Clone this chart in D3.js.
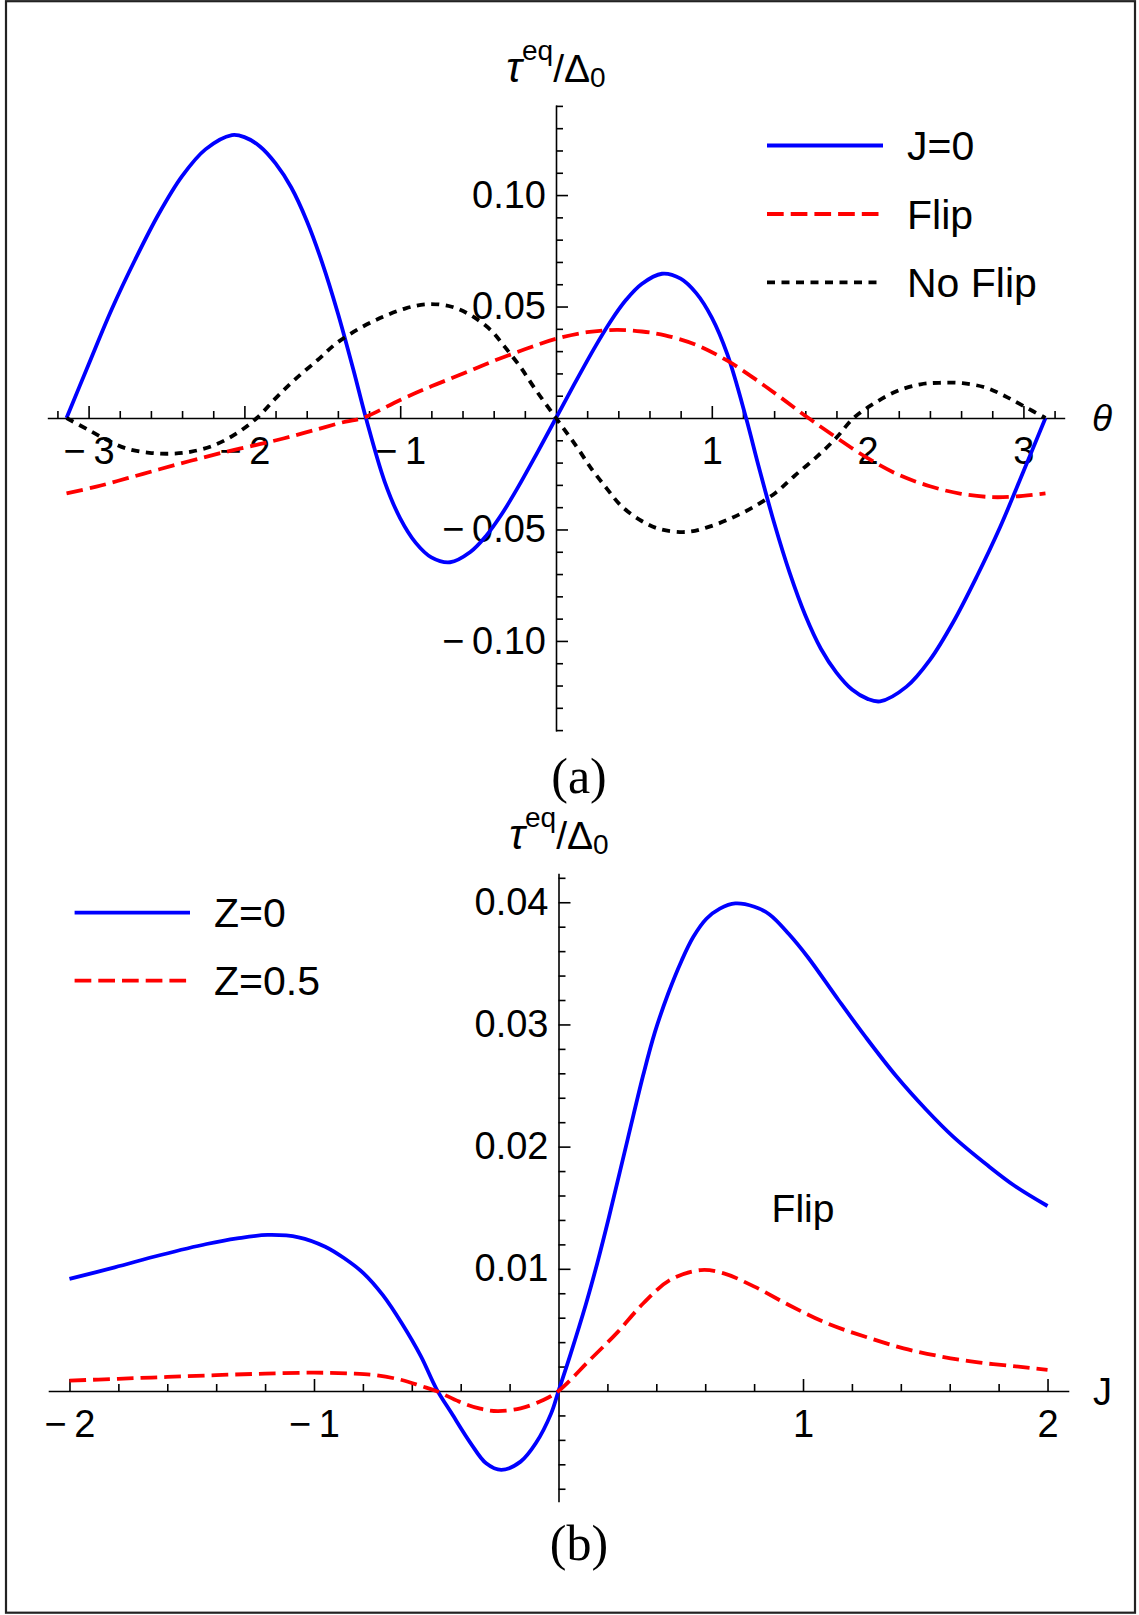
<!DOCTYPE html>
<html><head><meta charset="utf-8">
<script src="https://cdn.jsdelivr.net/npm/d3@7"></script>
<style>body{margin:0;background:#fff} svg{display:block}</style>
</head><body>
<script>
// ---------- Panel (a) data: tau^eq/Delta_0 vs theta ----------
const thetaJ0 = [-3.1416,-3.0,-2.85,-2.7,-2.55,-2.4,-2.25,-2.08,-2.0,-1.9,-1.8,-1.7,-1.6,-1.5,-1.4,-1.3,-1.22,-1.1,-1.0,-0.9,-0.8,-0.68,-0.55,-0.45,-0.35,-0.25,-0.12,0,
  0.12,0.25,0.35,0.45,0.55,0.68,0.8,0.9,1.0,1.1,1.22,1.3,1.4,1.5,1.6,1.7,1.8,1.9,2.0,2.08,2.25,2.4,2.55,2.7,2.85,3.0,3.1416];
const tauJ0 = [0,0.024,0.049,0.0712,0.0915,0.1085,0.1205,0.1269,0.1260,0.1218,0.1142,0.1035,0.0885,0.0695,0.047,0.0215,0,-0.0285,-0.045,-0.056,-0.0625,-0.0647,-0.0601,-0.053,-0.0433,-0.0318,-0.0155,0,
  0.0155,0.0318,0.0433,0.053,0.0601,0.0647,0.0625,0.056,0.045,0.0285,0,-0.0215,-0.047,-0.0695,-0.0885,-0.1035,-0.1142,-0.1218,-0.1260,-0.1271,-0.1205,-0.1085,-0.0915,-0.0712,-0.049,-0.024,0];

const thetaFlip = [-3.1416,-2.95,-2.75,-2.55,-2.35,-2.15,-1.95,-1.75,-1.55,-1.35,-1.24,-1.0,-0.8,-0.6,-0.4,-0.2,0,0.2,0.39,0.55,0.7,0.9,1.1,1.3,1.45,1.62,1.8,2.0,2.2,2.4,2.6,2.8,2.95,3.1416];
const tauFlip = [-0.0338,-0.0308,-0.027,-0.0231,-0.0193,-0.0157,-0.0125,-0.0092,-0.0054,-0.0016,0,0.0081,0.0142,0.0198,0.0256,0.0308,0.0355,0.0385,0.0395,0.0388,0.0371,0.0328,0.0257,0.0164,0.0088,0,-0.0088,-0.018,-0.0255,-0.0306,-0.034,-0.0355,-0.0352,-0.0338];

const thetaNoFlip = [-3.1416,-3.0,-2.88,-2.76,-2.61,-2.47,-2.34,-2.19,-2.05,-1.92,-1.8,-1.68,-1.53,-1.41,-1.26,-1.11,-0.965,-0.82,-0.67,-0.55,-0.42,-0.33,-0.23,-0.13,0,
  0.13,0.23,0.33,0.42,0.55,0.67,0.84,0.965,1.11,1.26,1.41,1.53,1.68,1.8,1.91,2.05,2.19,2.34,2.46,2.61,2.76,2.88,3.0,3.1416];
const tauNoFlip = [0,-0.0054,-0.0099,-0.0136,-0.0156,-0.016,-0.0151,-0.0121,-0.0069,0,0.0088,0.017,0.026,0.0335,0.0402,0.0454,0.0492,0.0511,0.0499,0.0462,0.0395,0.032,0.023,0.0126,0,
  -0.0126,-0.023,-0.032,-0.0395,-0.0462,-0.0499,-0.0511,-0.0492,-0.0454,-0.0402,-0.0335,-0.026,-0.017,-0.0088,0,0.0069,0.0121,0.0151,0.0158,0.0156,0.0136,0.0099,0.0054,0];

// ---------- Panel (b) data: tau^eq/Delta_0 vs J ----------
const jZ0 = [-2,-1.815,-1.627,-1.439,-1.314,-1.19,-1.063,-0.954,-0.876,-0.797,-0.719,-0.641,-0.562,-0.5,-0.437,-0.359,-0.296,-0.234,-0.155,-0.093,-0.03,0,
  0.049,0.112,0.159,0.206,0.284,0.347,0.394,0.449,0.503,0.551,0.605,0.66,0.723,0.801,0.863,0.942,1.02,1.145,1.255,1.38,1.505,1.615,1.756,1.865,2.0];
const tauZ0 = [0.00917,0.01012,0.01113,0.01203,0.01249,0.01277,0.01258,0.01181,0.01086,0.00963,0.00786,0.00554,0.00281,0.0002,-0.00183,-0.00428,-0.00592,-0.00646,-0.00578,-0.00428,-0.00183,0,
  0.0030,0.0071,0.0105,0.0142,0.0207,0.0259,0.02935,0.03255,0.0352,0.03715,0.03865,0.03948,0.0399,0.03963,0.039,0.0374,0.0355,0.0320,0.0290,0.0258,0.0230,0.0208,0.01845,0.0168,0.01514];

const jZ05 = [-2,-1.8,-1.6,-1.4,-1.2,-1.0,-0.85,-0.75,-0.641,-0.562,-0.5,-0.406,-0.32,-0.249,-0.155,-0.062,0,0.128,0.237,0.347,0.456,0.582,0.676,0.801,0.942,1.098,1.255,1.411,1.568,1.724,1.881,2.0];
const tauZ05 = [0.00085,0.001,0.00115,0.0013,0.00142,0.0015,0.00143,0.0013,0.0009,0.00041,0,-0.00087,-0.00145,-0.00164,-0.00142,-0.00074,0,0.00254,0.00472,0.00718,0.00908,0.0099,0.00963,0.00854,0.00704,0.00554,0.00444,0.00349,0.00281,0.00232,0.00199,0.00172];

// ---------- Tick labels / legends ----------
const xTicksA = [-3,-2,-1,1,2,3];
const yTicksA = [-0.10,-0.05,0.05,0.10];
const xTicksB = [-2,-1,1,2];
const yTicksB = [0.01,0.02,0.03,0.04];
const legendA = ["J=0","Flip","No Flip"];
const legendB = ["Z=0","Z=0.5"];

// ---------- drawing ----------
const W = 1139, H = 1615;
const FONT = "'Liberation Sans', Arial, sans-serif";
const SERIF = "'Liberation Serif', 'Times New Roman', serif";
const svg = d3.select("body").append("svg").attr("width", W).attr("height", H);
svg.append("rect").attr("width", W).attr("height", H).attr("fill", "#fff");
svg.append("rect").attr("x", 6).attr("y", 1.2).attr("width", 1129).attr("height", 1611.5)
  .attr("fill", "none").attr("stroke", "#222").attr("stroke-width", 2.2);

const styles = [
  {stroke: "#0000ff", dash: null},
  {stroke: "#ff0000", dash: "16.7,7"},
  {stroke: "#000000", dash: "8,6.5"}
];
const MINUS = "\u2212\u2009";
const fmtX = d => (d < 0 ? MINUS : "") + Math.abs(d);
const fmtY = d => (d < 0 ? MINUS : "") + d3.format(".2f")(Math.abs(d));

function drawAxes(x, y, xMaj, xMin, yMaj, yMin) {
  const g = svg.append("g");
  const y0 = y(0), x0 = x(0);
  g.append("g").attr("transform", `translate(0,${y0})`)
    .call(d3.axisBottom(x).tickValues(xMaj).tickSizeInner(-12).tickSizeOuter(0).tickPadding(19).tickFormat(fmtX));
  g.append("g").attr("transform", `translate(0,${y0})`)
    .call(d3.axisBottom(x).tickValues(xMin).tickSizeInner(-7).tickSizeOuter(0).tickFormat(""))
    .call(s => s.select(".domain").remove());
  g.append("g").attr("transform", `translate(${x0},0)`)
    .call(d3.axisLeft(y).tickValues(yMaj).tickSizeInner(-12).tickSizeOuter(0).tickPadding(10).tickFormat(fmtY));
  g.append("g").attr("transform", `translate(${x0},0)`)
    .call(d3.axisLeft(y).tickValues(yMin).tickSizeInner(-7).tickSizeOuter(0).tickFormat(""))
    .call(s => s.select(".domain").remove());
  g.selectAll("path.domain, .tick line").attr("stroke", "#000").attr("stroke-width", 1.6);
  g.selectAll("g").attr("font-family", null).attr("font-size", null);
  g.selectAll("text").attr("font-family", FONT).attr("font-size", 38).attr("fill", "#000");
}

function drawCurve(x, y, xs, ys, st) {
  const pts = xs.map((v, i) => [v, ys[i]]);
  const line = d3.line().x(d => x(d[0])).y(d => y(d[1])).curve(d3.curveCatmullRom.alpha(0.5));
  svg.append("path").datum(pts).attr("d", line).attr("fill", "none")
    .attr("stroke", st.stroke).attr("stroke-width", 3.8)
    .attr("stroke-dasharray", st.dash).attr("stroke-linejoin", "round");
}

function drawLegend(labels, x1, x2, tx, ys) {
  labels.forEach((lab, i) => {
    const st = styles[i];
    svg.append("line").attr("x1", x1).attr("x2", x2).attr("y1", ys[i]).attr("y2", ys[i])
      .attr("stroke", st.stroke).attr("stroke-width", 3.8).attr("stroke-dasharray", st.dash);
    svg.append("text").attr("x", tx).attr("y", ys[i]).attr("dy", "0.36em")
      .attr("font-family", FONT).attr("font-size", 41).text(lab);
  });
}

function yLabel(cx, baseline) {
  const t = svg.append("text").attr("x", cx).attr("y", baseline).attr("text-anchor", "middle")
    .attr("font-family", FONT).attr("font-size", 39).attr("fill", "#000");
  t.append("tspan").attr("font-style", "italic").attr("font-size", 42).text("\u03C4");
  t.append("tspan").attr("font-size", 28).attr("dy", -22).text("eq");
  t.append("tspan").attr("dy", 22).text("/\u0394");
  t.append("tspan").attr("font-size", 28).attr("dy", 5).text("0");
}

// ----- Panel (a) -----
const xA = d3.scaleLinear().domain([-3.265, 3.265]).range([47.3, 1064.7]);
const yA = d3.scaleLinear().domain([-0.1404, 0.1404]).range([731, 105]);
const xMinA = d3.range(-16, 17).filter(k => k % 5 !== 0).map(k => k * 0.2);
const yMinA = d3.range(-14, 15).filter(k => k % 5 !== 0).map(k => k * 0.01);
drawAxes(xA, yA, xTicksA, xMinA, yTicksA, yMinA);
drawCurve(xA, yA, thetaJ0, tauJ0, styles[0]);
drawCurve(xA, yA, thetaFlip, tauFlip, styles[1]);
drawCurve(xA, yA, thetaNoFlip, tauNoFlip, styles[2]);
drawLegend(legendA, 767, 883, 907, [145.5, 214, 282.3]);
yLabel(556, 82);
svg.append("text").attr("x", 1092).attr("y", 418).attr("dy", "0.36em")
  .attr("font-family", FONT).attr("font-style", "italic").attr("font-size", 37).text("\u03B8");
svg.append("text").attr("x", 579).attr("y", 793).attr("text-anchor", "middle")
  .attr("font-family", SERIF).attr("font-size", 50).text("(a)");

// ----- Panel (b) -----
const xB = d3.scaleLinear().domain([-2.087, 2.087]).range([48.2, 1068.8]);
const yB = d3.scaleLinear().domain([-0.00906, 0.04237]).range([1501.7, 873.3]);
const xMinB = d3.range(-10, 11).filter(k => k % 5 !== 0).map(k => k * 0.2);
const yMinB = d3.range(-4, 22).filter(k => k % 5 !== 0).map(k => k * 0.002);
drawAxes(xB, yB, xTicksB, xMinB, yTicksB, yMinB);
drawCurve(xB, yB, jZ0, tauZ0, styles[0]);
drawCurve(xB, yB, jZ05, tauZ05, styles[1]);
drawLegend(legendB, 74.6, 190, 214, [912.7, 980.7]);
yLabel(559, 849);
svg.append("text").attr("x", 1093).attr("y", yB(0)).attr("dy", "0.36em")
  .attr("font-family", FONT).attr("font-size", 38).text("J");
svg.append("text").attr("x", xB(1.0)).attr("y", yB(0.015)).attr("dy", "0.36em").attr("text-anchor", "middle")
  .attr("font-family", FONT).attr("font-size", 39).text("Flip");
svg.append("text").attr("x", 579).attr("y", 1560).attr("text-anchor", "middle")
  .attr("font-family", SERIF).attr("font-size", 50).text("(b)");
</script>
</body></html>
